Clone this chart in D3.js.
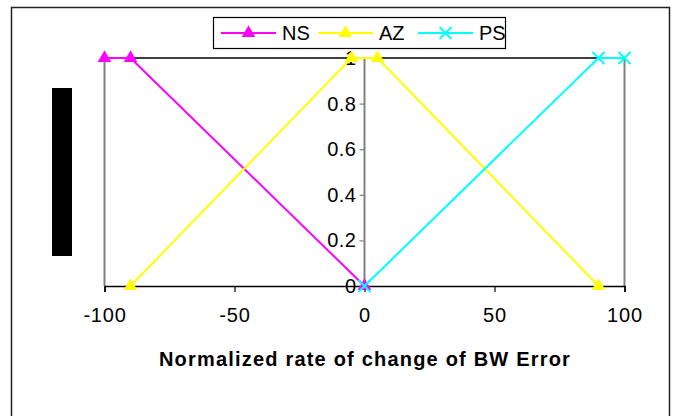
<!DOCTYPE html>
<html>
<head>
<meta charset="utf-8">
<script src="https://cdn.jsdelivr.net/npm/d3@7"></script>
<style>
  body { margin: 0; background: #fff; }
  svg { display: block; font-family: Arial, 'Liberation Sans', sans-serif; }
</style>
</head>
<body>
<div id="vis"></div>
<script>
(function () {

  'strict';

  // Data
  var seriesNames = ['NS', 'AZ', 'PS'];
  var nsX = [-100, -90, 0];
  var nsY = [1, 1, 0];
  var azX = [-90, -5, 5, 90];
  var azY = [0, 1, 1, 0];
  var psX = [0, 90, 100];
  var psY = [0, 1, 1];
  var xTicks = [-100, -50, 0, 50, 100];
  var yTicks = [0, 0.2, 0.4, 0.6, 0.8, 1];
  var xTitle = 'Normalized rate of change of BW Error';

  var colors = { NS: '#ff00ff', AZ: '#ffff00', PS: '#00ffff' };
  var markers = { NS: 'triangle', AZ: 'triangle', PS: 'cross' };

  var width = 675;
  var height = 416;

  var x = d3.scaleLinear().domain([-100, 100]).range([104.5, 624.5]);
  var y = d3.scaleLinear().domain([0, 1]).range([286, 58]);

  function pair(xs, ys) {
    return xs.map(function (v, i) { return { x: v, y: ys[i] }; });
  }

  var series = [
    { name: 'NS', values: pair(nsX, nsY) },
    { name: 'AZ', values: pair(azX, azY) },
    { name: 'PS', values: pair(psX, psY) }
  ];

  var svg = d3.select('#vis').append('svg')
      .attr('width', width)
      .attr('height', height);

  // Outer frame (bottom edge runs off the picture)
  svg.append('rect')
      .attr('x', 11.5)
      .attr('y', 7.5)
      .attr('width', 658)
      .attr('height', 420)
      .attr('fill', '#fff')
      .attr('stroke', '#222')
      .attr('stroke-width', 1.5);

  // Redacted y-axis title
  svg.append('rect')
      .attr('x', 52)
      .attr('y', 88)
      .attr('width', 20)
      .attr('height', 168)
      .attr('fill', '#000');

  // Vertical grey lines at -100, 0, 100
  svg.append('g')
    .selectAll('line')
      .data([-100, 0, 100])
      .enter()
    .append('line')
      .attr('x1', function (d) { return x(d); })
      .attr('x2', function (d) { return x(d); })
      .attr('y1', y(1))
      .attr('y2', y(0))
      .attr('stroke', '#808080')
      .attr('stroke-width', 2);

  // Top border line
  svg.append('line')
      .attr('x1', x(-100))
      .attr('x2', x(100))
      .attr('y1', y(1))
      .attr('y2', y(1))
      .attr('stroke', '#000')
      .attr('stroke-width', 1.5);

  // X axis
  var xAxis = d3.axisBottom(x)
      .tickValues(xTicks)
      .tickSize(6)
      .tickPadding(16)
      .tickFormat(d3.format('d'));

  var gx = svg.append('g')
      .attr('transform', 'translate(0,' + y(0) + ')')
      .call(xAxis);

  gx.select('.domain').attr('stroke', '#000').attr('stroke-width', 1.5);
  gx.selectAll('.tick line').attr('stroke', '#000').attr('stroke-width', 1.2);
  gx.selectAll('.tick text')
      .attr('font-size', 20)
      .attr('letter-spacing', 0.8)
      .attr('font-family', 'Arial, Liberation Sans, sans-serif')
      .attr('fill', '#000')
      .text(function (d) { return d < 0 ? '-' + Math.abs(d) : d; });

  // Y axis crossing at x = 0
  var yAxis = d3.axisLeft(y)
      .tickValues(yTicks)
      .tickSize(5)
      .tickPadding(3)
      .tickFormat(function (d) { return String(d); });

  var gy = svg.append('g')
      .attr('transform', 'translate(' + x(0) + ',0)')
      .call(yAxis);

  gy.select('.domain').remove();
  gy.selectAll('.tick line').attr('stroke', '#808080').attr('stroke-width', 1.2);
  gy.selectAll('.tick text')
      .attr('font-size', 20)
      .attr('letter-spacing', 0.5)
      .attr('font-family', 'Arial, Liberation Sans, sans-serif')
      .attr('fill', '#000');

  // Series lines
  var line = d3.line()
      .x(function (d) { return x(d.x); })
      .y(function (d) { return y(d.y); });

  var crossPath = 'M-6,-6L6,6M-6,6L6,-6';
  var triPath = d3.symbol().type(d3.symbolTriangle).size(80)();

  function drawMarker(sel, name) {
    if (markers[name] === 'cross') {
      sel.append('path')
          .attr('d', crossPath)
          .attr('fill', 'none')
          .attr('stroke', colors[name])
          .attr('stroke-width', 2);
    } else {
      sel.append('path')
          .attr('d', triPath)
          .attr('fill', colors[name]);
    }
  }

  series.forEach(function (s) {

    var g = svg.append('g');

    g.append('path')
        .datum(s.values)
        .attr('d', line)
        .attr('fill', 'none')
        .attr('stroke', colors[s.name])
        .attr('stroke-width', 2);

    g.selectAll('g.marker')
        .data(s.values)
        .enter()
      .append('g')
        .attr('class', 'marker')
        .attr('transform', function (d) {
          return 'translate(' + x(d.x) + ',' + y(d.y) + ')';
        })
        .each(function () { drawMarker(d3.select(this), s.name); });
  });

  // X axis title
  svg.append('text')
      .attr('x', 365)
      .attr('y', 366)
      .attr('text-anchor', 'middle')
      .attr('font-size', 20)
      .attr('letter-spacing', 1.2)
      .attr('font-weight', 'bold')
      .attr('fill', '#000')
      .text(xTitle);

  // Legend
  var legend = svg.append('g');

  legend.append('rect')
      .attr('x', 213.5)
      .attr('y', 17.5)
      .attr('width', 292)
      .attr('height', 31)
      .attr('fill', '#fff')
      .attr('stroke', '#000')
      .attr('stroke-width', 1.2);

  var legendX = [221, 318, 418];

  seriesNames.forEach(function (name, i) {

    var lx = legendX[i];
    var item = legend.append('g');

    item.append('line')
        .attr('x1', lx)
        .attr('x2', lx + 55)
        .attr('y1', 33)
        .attr('y2', 33)
        .attr('stroke', colors[name])
        .attr('stroke-width', 2);

    item.append('g')
        .attr('transform', 'translate(' + (lx + 27.5) + ',33)')
        .call(function (sel) { drawMarker(sel, name); });

    item.append('text')
        .attr('x', lx + 61)
        .attr('y', 40)
        .attr('font-size', 20)
        .attr('fill', '#000')
        .text(name);
  });
})();
</script>
</body>
</html>
